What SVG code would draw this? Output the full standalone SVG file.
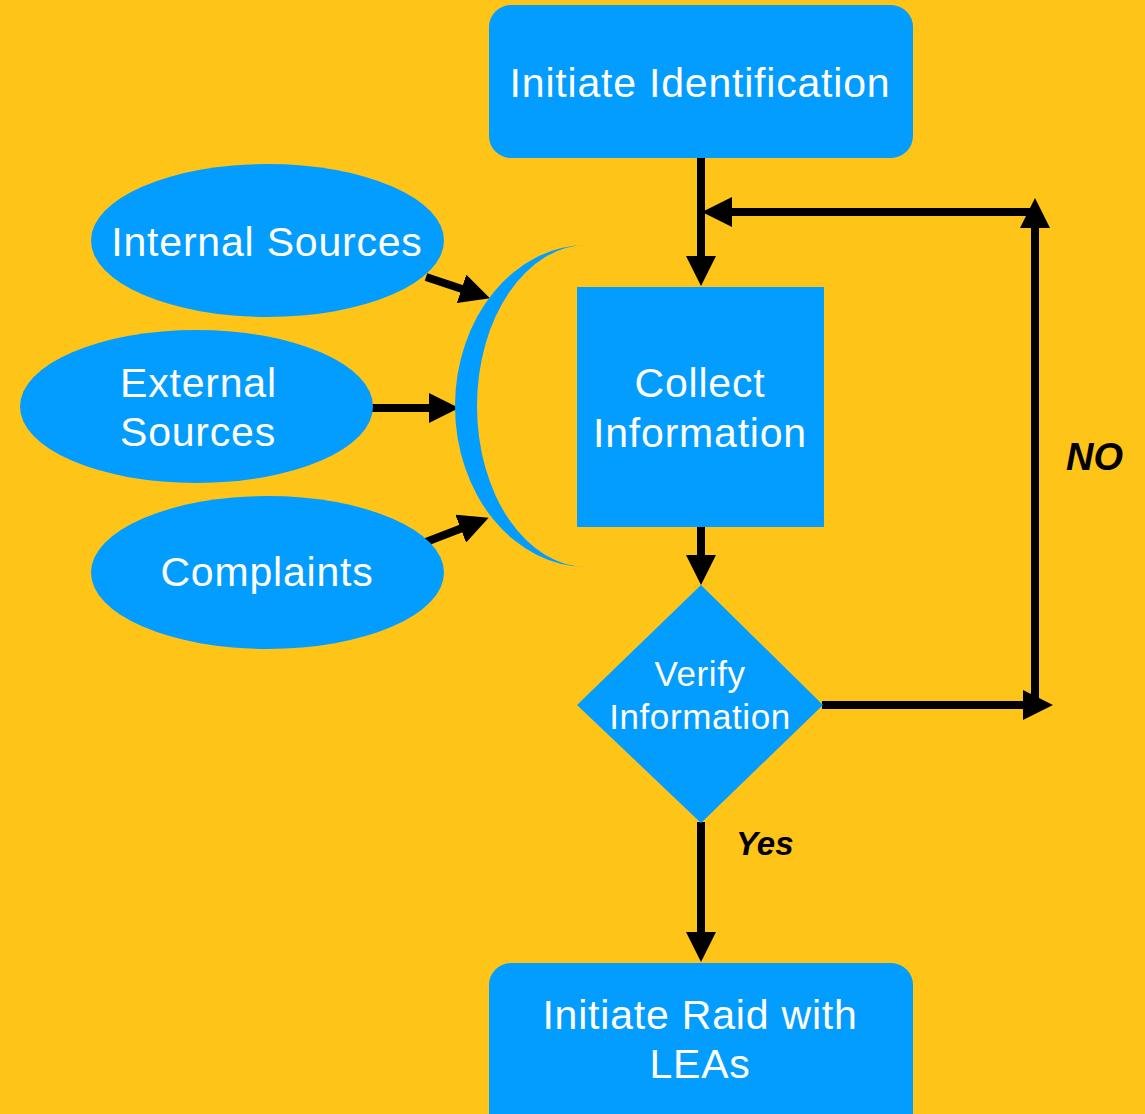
<svg xmlns="http://www.w3.org/2000/svg" width="1145" height="1114" viewBox="0 0 1145 1114">
  <style>
    .shape { fill: #039DFF; }
    .label { fill: #FFFFFF; font-family: "Liberation Sans", Arial, sans-serif; font-size: 41px; letter-spacing: 0.8px; text-anchor: middle; }
    .small { font-size: 35px; letter-spacing: 0.6px; }
    .edge { fill: none; stroke: #000000; stroke-width: 8; }
    .tag { fill: #000000; font-family: "Liberation Sans", Arial, sans-serif; font-weight: bold; font-style: italic; }
  </style>
  <defs>
    <marker id="head" markerUnits="userSpaceOnUse" markerWidth="30" markerHeight="30" viewBox="0 0 30 30" refX="10" refY="15" orient="auto">
      <path d="M0,0 L30,15 L0,30 Z" fill="#000000"/>
    </marker>
  </defs>

  <!-- background -->
  <rect x="0" y="0" width="1145" height="1114" fill="#FFC418"/>

  <!-- connectors -->
  <g id="connectors">
    <line class="edge" x1="701" y1="158" x2="701" y2="266" marker-end="url(#head)"/>
    <line class="edge" x1="701" y1="526" x2="701" y2="565" marker-end="url(#head)"/>
    <line class="edge" x1="701" y1="822" x2="701" y2="942" marker-end="url(#head)"/>
    <line class="edge" x1="822" y1="705" x2="1033" y2="705" marker-end="url(#head)"/>
    <line class="edge" x1="1035" y1="705" x2="1035" y2="218" marker-end="url(#head)"/>
    <line class="edge" x1="1031" y1="212" x2="722" y2="212" marker-end="url(#head)"/>
    <line class="edge" x1="426" y1="277" x2="471" y2="292" marker-end="url(#head)"/>
    <line class="edge" x1="372" y1="408" x2="439" y2="408" marker-end="url(#head)"/>
    <line class="edge" x1="426" y1="542" x2="470" y2="525" marker-end="url(#head)"/>
  </g>

  <!-- merge crescent -->
  <g id="merge">
    <path class="shape" d="M587,245 A132,161 0 0 0 587,567 A110,161 0 0 1 587,245 Z"/>
  </g>

  <g id="initiate-identification">
    <rect class="shape" x="489" y="5" width="424" height="153" rx="22"/>
    <text class="label" x="700" y="97">Initiate Identification</text>
  </g>

  <g id="internal-sources">
    <ellipse class="shape" cx="267.5" cy="240.5" rx="176.5" ry="76.5"/>
    <text class="label" x="267" y="256">Internal Sources</text>
  </g>

  <g id="external-sources">
    <ellipse class="shape" cx="196.5" cy="406.5" rx="176.5" ry="76.5"/>
    <text class="label" x="120" y="397" style="text-anchor:start">External</text>
    <text class="label" x="120" y="446" style="text-anchor:start">Sources</text>
  </g>

  <g id="complaints">
    <ellipse class="shape" cx="267.5" cy="572.5" rx="176.5" ry="76.5"/>
    <text class="label" x="267" y="586">Complaints</text>
  </g>

  <g id="collect-information">
    <rect class="shape" x="577" y="287" width="247" height="240"/>
    <text class="label" x="700" y="397">Collect</text>
    <text class="label" x="700" y="447">Information</text>
  </g>

  <g id="verify-information">
    <polygon class="shape" points="701,585 823,705 701,823 577,705"/>
    <text class="label small" x="700" y="686">Verify</text>
    <text class="label small" x="700" y="729">Information</text>
  </g>

  <g id="initiate-raid">
    <rect class="shape" x="489" y="963" width="424" height="175" rx="22"/>
    <text class="label" x="700" y="1029">Initiate Raid with</text>
    <text class="label" x="700" y="1078">LEAs</text>
  </g>

  <!-- decision labels -->
  <text class="tag" x="1066" y="470" font-size="38">NO</text>
  <text class="tag" x="736" y="855" font-size="33">Yes</text>
</svg>
